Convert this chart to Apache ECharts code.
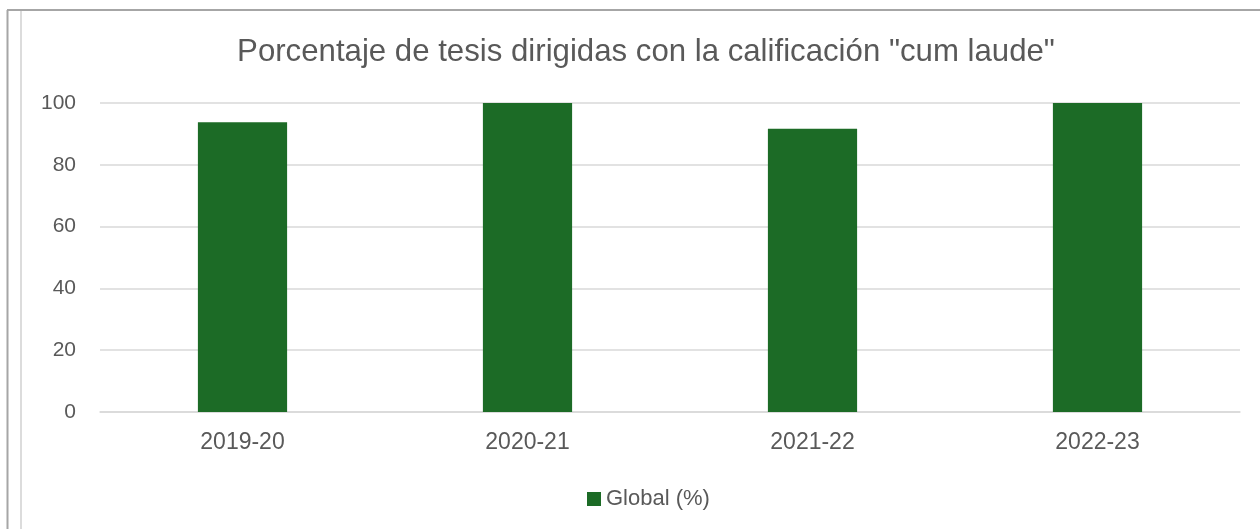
<!DOCTYPE html>
<html><head><meta charset="utf-8">
<script src="https://cdn.jsdelivr.net/npm/echarts@6/dist/echarts.min.js"></script>
<style>html,body{margin:0;padding:0;background:#fff}#c{width:1260px;height:529px}</style>
</head><body><div id="c"></div>
<script>
const categories = ['2019-20', '2020-21', '2021-22', '2022-23'];
const globalPct = [93.75, 100, 91.67, 100];
const seriesName = 'Global (%)';
const titleText = 'Porcentaje de tesis dirigidas con la calificación "cum laude"';

const chart = echarts.init(document.getElementById('c'));
const font = 'Liberation Sans, Arial, sans-serif';
chart.setOption({
  animation: false,
  backgroundColor: '#fff',
  title: {
    text: titleText, left: 641, top: 32, textAlign: 'center',
    textStyle: {fontFamily: font, fontSize: 31.2, fontWeight: 'normal', color: '#595959'}
  },
  legend: {
    data: [seriesName], left: 582, top: 483, itemWidth: 14, itemHeight: 14, itemGap: 5,
    icon: 'rect', 
    textStyle: {fontFamily: font, fontSize: 22, color: '#595959'}
  },
  grid: {left: 100, right: 20, top: 103, bottom: 117, containLabel: false},
  xAxis: {
    type: 'category', data: categories,
    axisLine: {show: true, lineStyle: {color: '#d9d9d9', width: 1.5}},
    axisTick: {show: false},
    axisLabel: {fontFamily: font, fontSize: 23, color: '#595959', margin: 19}
  },
  yAxis: {
    type: 'value', min: 0, max: 100, interval: 20,
    axisLine: {show: false}, axisTick: {show: false},
    splitLine: {lineStyle: {color: '#d9d9d9', width: 1.5}},
    axisLabel: {fontFamily: font, fontSize: 21, color: '#595959', margin: 24}
  },
  series: [{
    name: seriesName, type: 'bar', data: globalPct, barWidth: '31.3%',
    itemStyle: {color: '#1c6b26'}
  }],
  graphic: [
    {type: 'line', shape: {x1: 7.5, y1: 10, x2: 7.5, y2: 529}, style: {stroke: '#a6a6a6', lineWidth: 2}},
    {type: 'line', shape: {x1: 7, y1: 10, x2: 1260, y2: 10}, style: {stroke: '#a6a6a6', lineWidth: 2}},
    {type: 'line', shape: {x1: 21, y1: 11, x2: 21, y2: 529}, style: {stroke: '#dcdcdc', lineWidth: 2}}
  ]
});
</script></body></html>
